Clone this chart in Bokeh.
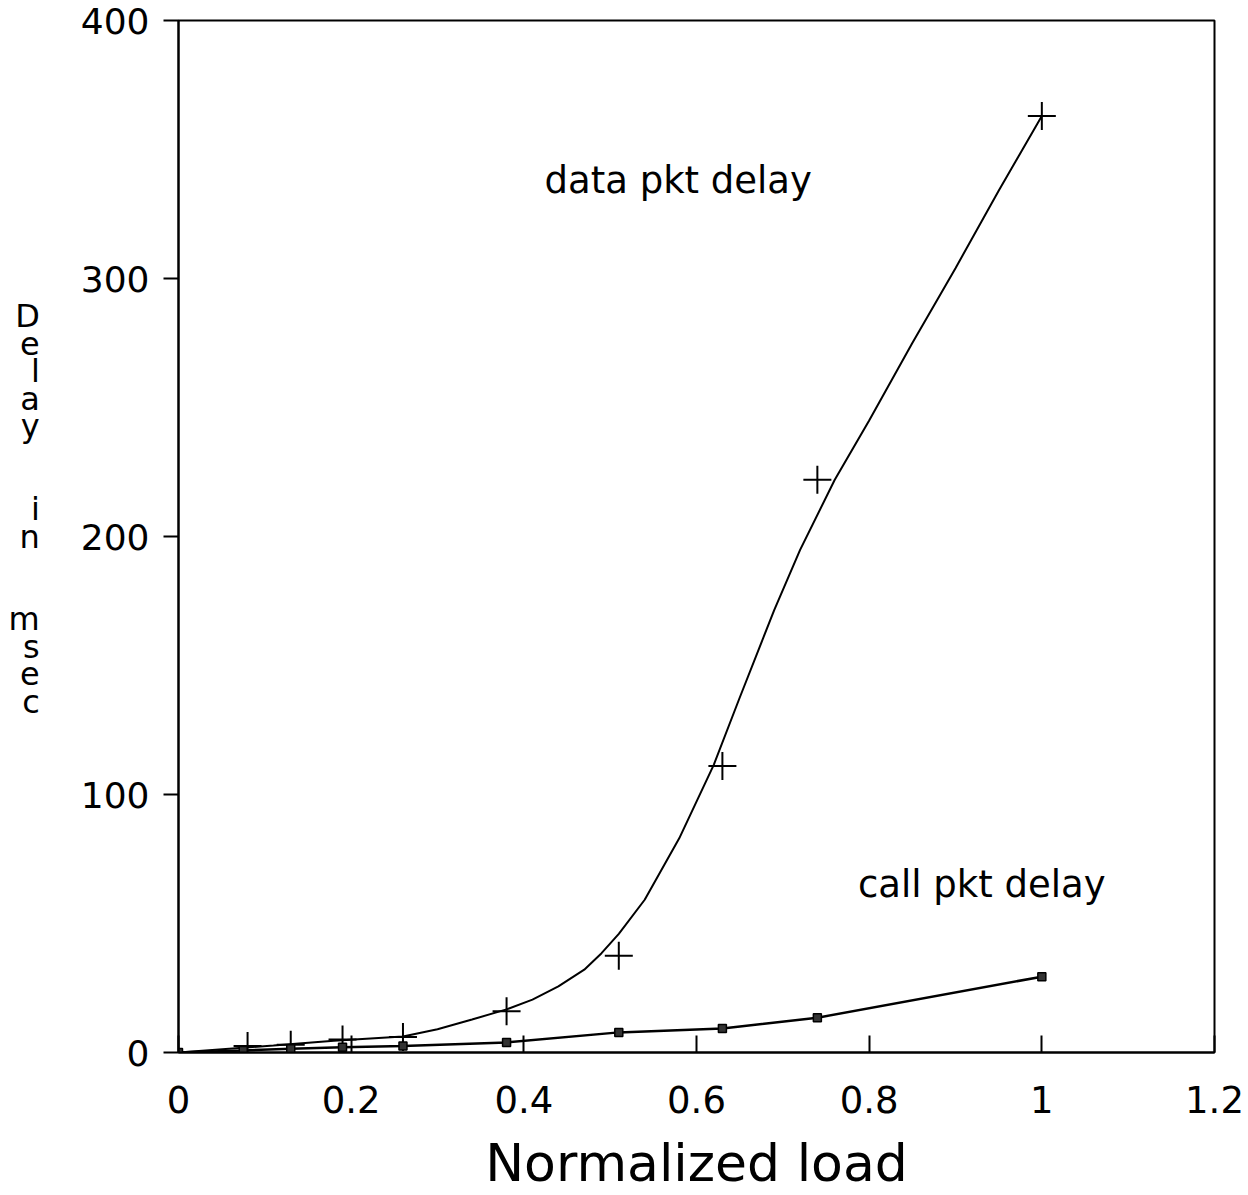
from bokeh.plotting import figure
from bokeh.models import Range1d, FixedTicker, Label
from bokeh.embed import file_html
from bokeh.resources import INLINE

# ---- data ----
load = [0.08, 0.13, 0.19, 0.26, 0.38, 0.51, 0.63, 0.74, 1.0]
data_pkt_delay = [2.5, 3.0, 5.0, 6.0, 16.0, 37.5, 111.0, 222.0, 363.0]

call_load = [0.0, 0.075, 0.13, 0.19, 0.26, 0.38, 0.51, 0.63, 0.74, 1.0]
call_pkt_delay = [0.0, 0.8, 1.5, 2.0, 2.5, 3.9, 7.8, 9.3, 13.5, 29.4]

# smooth fitted curve for data packet delay
fit_load = [0.0, 0.11, 0.18, 0.26, 0.30, 0.34, 0.38, 0.41, 0.44, 0.47, 0.49, 0.51,
            0.54, 0.58, 0.62, 0.65, 0.69, 0.72, 0.76, 0.80, 0.85, 0.90, 0.95, 1.0]
fit_delay = [0.0, 2.7, 4.6, 6.2, 9.0, 12.8, 16.7, 20.5, 25.6, 32.1, 38.5, 46.0,
             59.2, 83.0, 111.5, 137.5, 171.5, 194.8, 221.9, 245.0, 275.0,
             304.0, 334.0, 363.0]

x_ticks = [0, 0.2, 0.4, 0.6, 0.8, 1.0, 1.2]
x_tick_labels = {0: "0", 0.2: "0.2", 0.4: "0.4", 0.6: "0.6", 0.8: "0.8", 1.0: "1", 1.2: "1.2"}
y_ticks = [0, 100, 200, 300, 400]

FONT = "DejaVu Sans"

p = figure(width=1248, height=1195, output_backend="svg", toolbar_location=None,
           x_range=Range1d(0, 1.2), y_range=Range1d(0, 400),
           min_border_left=178, min_border_right=34, min_border_top=20,
           min_border_bottom=142)
p.background_fill_color = "white"
p.border_fill_color = "white"
p.outline_line_color = "black"
p.outline_line_width = 2
p.xgrid.visible = False
p.ygrid.visible = False

# x axis
xa = p.xaxis[0]
xa.ticker = FixedTicker(ticks=x_ticks)
xa.major_label_overrides = x_tick_labels
xa.major_tick_in = 17
xa.major_tick_out = 0
xa.minor_tick_in = 0
xa.minor_tick_out = 0
xa.major_tick_line_color = "black"
xa.major_tick_line_width = 2
xa.axis_line_color = "black"
xa.axis_line_width = 2
xa.major_label_text_font = FONT
xa.major_label_text_font_size = "37px"
xa.major_label_text_color = "black"
xa.major_label_standoff = 33
xa.axis_label = "Normalized load"
xa.axis_label_text_font = FONT
xa.axis_label_text_font_size = "52px"
xa.axis_label_text_font_style = "normal"
xa.axis_label_text_color = "black"
xa.axis_label_standoff = 17

# y axis
ya = p.yaxis[0]
ya.ticker = FixedTicker(ticks=y_ticks)
ya.major_tick_in = 0
ya.major_tick_out = 15
ya.minor_tick_in = 0
ya.minor_tick_out = 0
ya.major_tick_line_color = "black"
ya.major_tick_line_width = 2
ya.axis_line_color = "black"
ya.axis_line_width = 2
ya.major_label_text_font = FONT
ya.major_label_text_font_size = "36px"
ya.major_label_text_color = "black"
ya.major_label_standoff = 14
ya.axis_label = "D\ne\nl\na\ny\n \n \ni\nn\n \n \nm\ns\ne\nc\n \n "
ya.axis_label_orientation = "horizontal"
ya.axis_label_text_font = FONT
ya.axis_label_text_font_size = "32px"
ya.axis_label_text_font_style = "normal"
ya.axis_label_text_color = "black"
ya.axis_label_text_align = "center"
ya.axis_label_text_line_height = 0.725
ya.axis_label_standoff = 38

# curves
p.line(fit_load, fit_delay, line_color="black", line_width=2)
p.scatter(load, data_pkt_delay, marker="cross", size=28, line_color="black",
          line_width=2)
p.line(call_load, call_pkt_delay, line_color="black", line_width=2.5)
p.scatter(call_load, call_pkt_delay, marker="square", size=8, line_color="black",
          fill_color="#333333", line_width=1.5)

# annotations
p.add_layout(Label(x=0.424, y=338, text="data pkt delay", text_font=FONT,
                   text_font_size="37px", text_color="black",
                   text_align="left", text_baseline="middle"))
p.add_layout(Label(x=0.787, y=65, text="call pkt delay", text_font=FONT,
                   text_font_size="37px", text_color="black",
                   text_align="left", text_baseline="middle"))

open("out.html", "w").write(file_html(p, INLINE))
